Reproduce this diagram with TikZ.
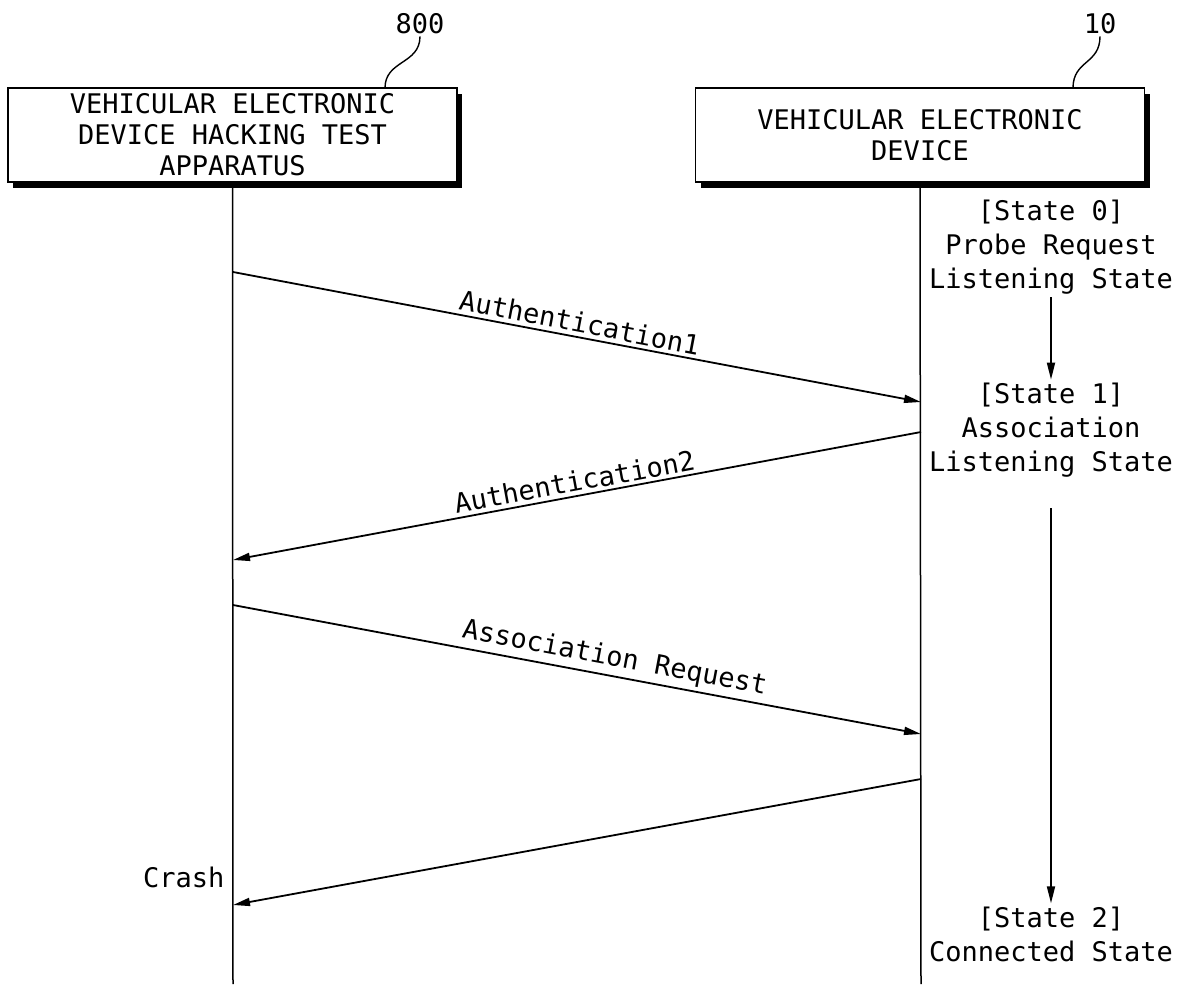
\documentclass[tikz,border=0pt]{standalone}
\usepackage{fontspec}
\setmonofont{DejaVu Sans Mono}
\usetikzlibrary{arrows.meta,positioning,shadows}

\begin{document}
\begin{tikzpicture}[x=1pt, y=-1pt,
    every node/.style={font=\ttfamily\fontsize{27}{31}\selectfont},
    actor/.style={draw, fill=white, line width=1.4pt, minimum width=449pt, minimum height=94pt, align=center, inner sep=0pt,
      drop shadow={shadow xshift=5pt, shadow yshift=-6pt, fill=black, opacity=1}},
    state/.style={align=center, inner sep=3pt, font=\ttfamily\fontsize{27}{34}\selectfont},
    life/.style={line width=1.5pt},
    msg/.style={line width=1.8pt, -{Triangle[length=17pt, width=8pt]}},
    leader/.style={line width=1.4pt}
  ]
    \useasboundingbox (0,0) rectangle (1189,985);
    % participants
    \node[actor] (tester) at (232.5,135) {VEHICULAR ELECTRONIC\\DEVICE HACKING TEST\\APPARATUS};
    \node[actor] (device) at (920,135) {VEHICULAR ELECTRONIC\\DEVICE};
    % reference numerals
    \node[inner sep=2pt] (n800) at (420,24) {800};
    \node[inner sep=2pt] (n10) at (1100,24) {10};
    \coordinate (n800tip) at (385,88);
    \coordinate (n10tip) at (1073,88);
    \draw[leader] (n800.south) .. controls +(0,28) and +(0,-28) .. (n800tip);
    \draw[leader] (n10.south) .. controls +(0,28) and +(0,-28) .. (n10tip);
    % lifelines
    \coordinate (testerend) at (233,984);
    \coordinate (deviceend) at (921,984);
    \draw[life] (tester.south) -- (testerend);
    \draw[life] (device.south) -- (deviceend);
    % message points
    \coordinate (t1) at (233,272);
    \coordinate (d1) at (921,402);
    \coordinate (d2) at (921,432);
    \coordinate (t2) at (233,560);
    \coordinate (t3) at (233,605);
    \coordinate (d3) at (921,734);
    \coordinate (d4) at (921,779);
    \coordinate (t4) at (233,905);
    \draw[msg] (t1) -- node[midway, above, sloped] (auth1) {Authentication1} (d1);
    \draw[msg] (d2) -- node[midway, above, sloped] (auth2) {Authentication2} (t2);
    \draw[msg] (t3) -- node[pos=0.55, above, sloped] (assoc) {Association Request} (d3);
    \draw[msg] (d4) -- (t4);
    \node[anchor=east] (crash) at (228,877) {Crash};
    % device states
    \node[state] (s0) at (1051,247) {[State 0]\\Probe Request\\Listening State};
    \node[state] (s1) at (1051,430) {[State 1]\\Association\\Listening State};
    \node[state] (s2) at (1051,934) {[State 2]\\Connected State};
    \draw[msg] (s0) -- (s1);
    \draw[msg, shorten <=28pt] (s1) -- (s2);
\end{tikzpicture}
\end{document}
